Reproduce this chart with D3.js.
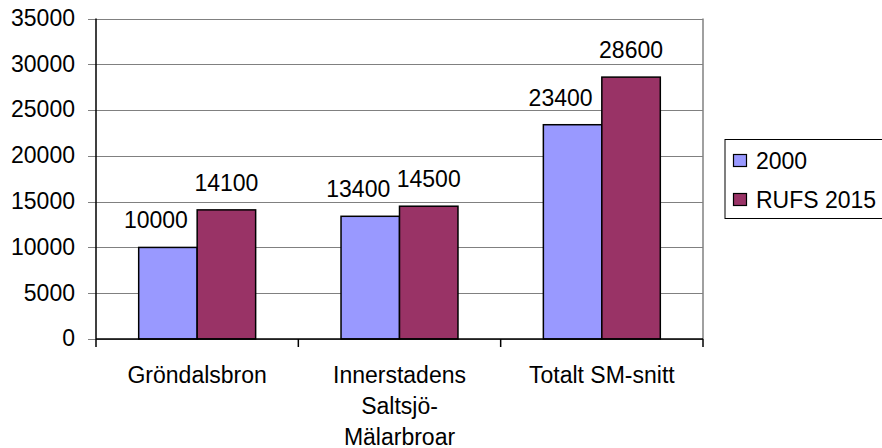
<!DOCTYPE html>
<html>
<head>
<meta charset="utf-8">
<script src="https://cdn.jsdelivr.net/npm/d3@7/dist/d3.min.js"></script>
<style>
  html, body { margin: 0; padding: 0; background: #fff; }
  svg { display: block; font-family: "Liberation Sans", Arial, sans-serif; }
</style>
</head>
<body>
<svg id="chart" width="882" height="448"></svg>
<script>
// Traffic volumes per crossing, 2000 vs. RUFS 2015 forecast
const categories = ["Gröndalsbron", "Innerstadens Saltsjö-Mälarbroar", "Totalt SM-snitt"];
const categoryLines = [["Gröndalsbron"], ["Innerstadens", "Saltsjö-", "Mälarbroar"], ["Totalt SM-snitt"]];
const seriesNames = ["2000", "RUFS 2015"];
const values2000 = [10000, 13400, 23400];
const valuesRufs2015 = [14100, 14500, 28600];
const yTicks = [0, 5000, 10000, 15000, 20000, 25000, 30000, 35000];
const seriesColors = ["#9999FF", "#993366"];

const seriesValues = [values2000, valuesRufs2015];
const rows = categories.map((c, i) => ({
  category: c,
  lines: categoryLines[i],
  values: seriesNames.map((s, j) => ({ series: s, idx: j, value: seriesValues[j][i] }))
}));

const svg = d3.select("#chart");
const plot = { left: 96, right: 703, top: 18.5, bottom: 339 };
const fontSize = 23;

const x0 = d3.scaleBand().domain(categories).range([plot.left, plot.right]).padding(0);
const bw = x0.bandwidth();
const groupW = bw * 0.578;
const x1 = d3.scaleBand().domain(seriesNames)
  .range([bw / 2 - groupW / 2, bw / 2 + groupW / 2]).padding(0);
const y = d3.scaleLinear().domain([0, 35000]).range([plot.bottom, plot.top]);

// Horizontal gridlines (with their short ticks left of the axis)
const grid = svg.append("g")
  .attr("transform", `translate(${plot.right},0)`)
  .call(d3.axisLeft(y).tickValues(yTicks).tickSize(plot.right - plot.left + 8).tickFormat(""));
grid.select(".domain").remove();
grid.selectAll(".tick line").attr("stroke", "#808080").attr("stroke-width", 1)
  .attr("shape-rendering", "crispEdges");

// Right border of the plot area
svg.append("line")
  .attr("x1", plot.right).attr("x2", plot.right)
  .attr("y1", plot.top).attr("y2", plot.bottom)
  .attr("stroke", "#808080").attr("stroke-width", 1.5);

// Y axis labels
const yAxis = svg.append("g")
  .attr("transform", `translate(${plot.left},0)`)
  .call(d3.axisLeft(y).tickValues(yTicks).tickSize(8).tickPadding(13).tickFormat(d3.format("d")));
yAxis.select(".domain").remove();
yAxis.selectAll(".tick line").remove();
yAxis.selectAll(".tick text")
  .attr("font-size", fontSize).attr("fill", "#000")
  .attr("font-family", "Liberation Sans, Arial, sans-serif")
  .attr("dy", "0.3em");

// Bars
const groups = svg.append("g").selectAll("g")
  .data(rows).join("g")
  .attr("transform", d => `translate(${x0(d.category)},0)`);

groups.selectAll("rect")
  .data(d => d.values).join("rect")
  .attr("x", d => x1(d.series))
  .attr("y", d => y(d.value))
  .attr("width", x1.bandwidth())
  .attr("height", d => y(0) - y(d.value))
  .attr("fill", d => seriesColors[d.idx])
  .attr("stroke", "#000").attr("stroke-width", 1.5);

// Value labels
groups.selectAll("text.val")
  .data(d => d.values).join("text")
  .attr("class", "val")
  .attr("x", d => x1(d.series) + x1.bandwidth() / 2 + (d.idx === 0 ? -12 : 0))
  .attr("y", d => y(d.value) - 19)
  .attr("text-anchor", "middle")
  .attr("font-size", fontSize)
  .attr("fill", "#000")
  .text(d => d.value);

// Left axis line
svg.append("line")
  .attr("x1", plot.left).attr("x2", plot.left)
  .attr("y1", plot.top).attr("y2", plot.bottom)
  .attr("stroke", "#000").attr("stroke-width", 1.5);

// Category axis: baseline and boundary ticks
svg.append("line")
  .attr("x1", plot.left).attr("x2", plot.right)
  .attr("y1", plot.bottom).attr("y2", plot.bottom)
  .attr("stroke", "#000").attr("stroke-width", 1.5);

const edges = categories.map(c => x0(c)).concat([x0(categories[categories.length - 1]) + bw]);
svg.append("g").selectAll("line")
  .data(edges).join("line")
  .attr("x1", d => d).attr("x2", d => d)
  .attr("y1", plot.bottom).attr("y2", plot.bottom + 8)
  .attr("stroke", "#000").attr("stroke-width", 1.5);

svg.append("g").selectAll("text")
  .data(rows).join("text")
  .attr("x", d => x0(d.category) + bw / 2)
  .attr("y", 382.5)
  .attr("text-anchor", "middle")
  .attr("font-size", fontSize)
  .attr("fill", "#000")
  .selectAll("tspan")
  .data(d => d.lines).join("tspan")
  .attr("x", function () { return d3.select(this.parentNode).attr("x"); })
  .attr("dy", (d, i) => i === 0 ? 0 : 31)
  .text(d => d);

// Legend
const legend = svg.append("g").attr("transform", "translate(725,139.5)");
legend.append("rect")
  .attr("x", 0).attr("y", 0).attr("width", 180).attr("height", 79)
  .attr("fill", "#fff").attr("stroke", "#000").attr("stroke-width", 1);

const items = legend.selectAll("g.item")
  .data(seriesNames).join("g")
  .attr("class", "item")
  .attr("transform", (d, i) => `translate(0,${21 + i * 39})`);
items.append("rect")
  .attr("x", 8.5).attr("y", -6).attr("width", 13).attr("height", 12)
  .attr("fill", (d, i) => seriesColors[i])
  .attr("stroke", "#000").attr("stroke-width", 1.2);
items.append("text")
  .attr("x", 31).attr("y", 8)
  .attr("font-size", fontSize).attr("fill", "#000")
  .text(d => d);
</script>
</body>
</html>
